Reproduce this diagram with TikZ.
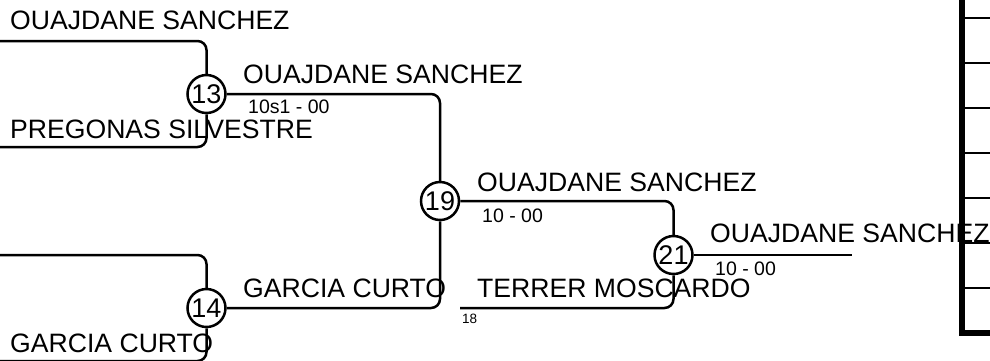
\documentclass[tikz,border=0pt]{standalone}
\usepackage{fontspec}
\setmainfont{Liberation Sans}
\begin{document}
\begin{tikzpicture}[x=1pt,y=-1pt,
  line/.style={line width=2.5pt, rounded corners=9pt},
  match/.style={circle, draw, line width=2.5pt, fill=white, inner sep=0pt, minimum size=38pt, font=\fontsize{27}{27}\selectfont},
  player/.style={anchor=base west, inner sep=0pt, font=\fontsize{26.6}{28}\selectfont},
  score/.style={anchor=base west, inner sep=0pt, font=\fontsize{19.5}{20}\selectfont},
  tiny/.style={anchor=base west, inner sep=0pt, font=\fontsize{13.5}{14}\selectfont}]
\useasboundingbox (0,0) rectangle (990,360);
% free ends
\coordinate (a13) at (0,41);
\coordinate (b13) at (0,147);
\coordinate (a14) at (0,255);
\coordinate (b14) at (0,361);
\coordinate (s18) at (460,308);
\coordinate (e21) at (852,255);
% matches
\node[match] (m13) at (206.5,94) {13};
\node[match] (m14) at (206.5,308) {14};
\node[match] (m19) at (440,201) {19};
\node[match] (m21) at (673.5,255) {21};
% connectors
\draw[line] (a13) -| (m13);
\draw[line] (b13) -| (m13);
\draw[line] (a14) -| (m14);
\draw[line] (b14) -| (m14);
\draw[line] (m13) -| (m19);
\draw[line] (m14) -| (m19);
\draw[line] (m19) -| (m21);
\draw[line] (s18) -| (m21);
\draw[line] (m21) -- (e21);
% labels
\node[player] (p1) at (10,29.5) {OUAJDANE SANCHEZ};
\node[player] (p2) at (10,138) {PREGONAS SILVESTRE};
\node[player] (p3) at (243,83) {OUAJDANE SANCHEZ};
\node[score] (s1) at (248,113) {10s1 - 00};
\node[player] (p4) at (243,297) {GARCIA CURTO};
\node[player] (p5) at (10,352) {GARCIA CURTO};
\node[player] (p6) at (477,191) {OUAJDANE SANCHEZ};
\node[score] (s2) at (482,222) {10 - 00};
\node[player] (p7) at (477,297) {TERRER MOSCARDO};
\node[tiny] (t18) at (462,323) {18};
\node[player] (p8) at (710,242.5) {OUAJDANE SANCHEZ};
\node[score] (s3) at (715,275) {10 - 00};
% right-hand table
\foreach \k in {0,...,6} {
  \draw[line width=2.5pt] (962,18+45*\k) -- (990,18+45*\k);
}
\draw[line width=6pt] (962,-5) -- (962,333) -- (995,333);
\end{tikzpicture}
\end{document}
